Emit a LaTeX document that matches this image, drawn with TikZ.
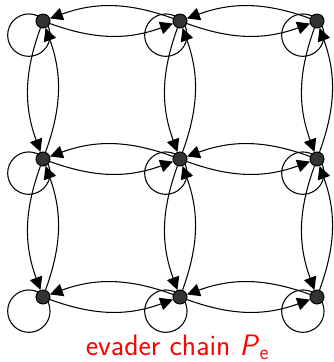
\documentclass[tikz,border=0pt]{standalone}
\usepackage{tikz}
\usetikzlibrary{arrows.meta,positioning,backgrounds}

\begin{document}
\begin{tikzpicture}[
  node distance=3.45cm and 3.425cm, on grid,
  vert/.style={circle,draw,line width=0.7pt,fill=black!80,minimum size=3.5mm,inner sep=0pt},
  arr/.style={-{Triangle[length=3.2mm,width=3.2mm]},line width=0.75pt,bend right=20},
  selfloop/.style={line width=0.75pt}
]
\useasboundingbox (0,0) rectangle (8.35,9.05);
\node[vert] (tl) at (1.075,8.525) {};
\node[vert,right=of tl] (tm) {};
\node[vert,right=of tm] (tr) {};
\node[vert,below=of tl] (ml) {};
\node[vert,right=of ml] (mm) {};
\node[vert,right=of mm] (mr) {};
\node[vert,below=of ml] (bl) {};
\node[vert,right=of bl] (bm) {};
\node[vert,right=of bm] (br) {};
% self loops
\begin{pgfonlayer}{background}
\draw[selfloop] (tl) ++(225:0.5) circle[radius=0.53];
\draw[selfloop] (tm) ++(225:0.5) circle[radius=0.53];
\draw[selfloop] (tr) ++(225:0.5) circle[radius=0.53];
\draw[selfloop] (ml) ++(225:0.5) circle[radius=0.53];
\draw[selfloop] (mm) ++(225:0.5) circle[radius=0.53];
\draw[selfloop] (mr) ++(225:0.5) circle[radius=0.53];
\draw[selfloop] (bl) ++(225:0.5) circle[radius=0.53];
\draw[selfloop] (bm) ++(225:0.5) circle[radius=0.53];
\draw[selfloop] (br) ++(225:0.5) circle[radius=0.53];
\end{pgfonlayer}
% rows
\draw[arr] (tl) to (tm); \draw[arr] (tm) to (tl);
\draw[arr] (tm) to (tr); \draw[arr] (tr) to (tm);
\draw[arr] (ml) to (mm); \draw[arr] (mm) to (ml);
\draw[arr] (mm) to (mr); \draw[arr] (mr) to (mm);
\draw[arr] (bl) to (bm); \draw[arr] (bm) to (bl);
\draw[arr] (bm) to (br); \draw[arr] (br) to (bm);
% columns
\draw[arr] (tl) to (ml); \draw[arr] (ml) to (tl);
\draw[arr] (ml) to (bl); \draw[arr] (bl) to (ml);
\draw[arr] (tm) to (mm); \draw[arr] (mm) to (tm);
\draw[arr] (mm) to (bm); \draw[arr] (bm) to (mm);
\draw[arr] (tr) to (mr); \draw[arr] (mr) to (tr);
\draw[arr] (mr) to (br); \draw[arr] (br) to (mr);
\node[red,font=\sffamily\fontsize{21}{25}\selectfont,anchor=base] (cap) at (4.44,0.17)
  {evader chain \textit{P}\textsubscript{e}};
\end{tikzpicture}
\end{document}
